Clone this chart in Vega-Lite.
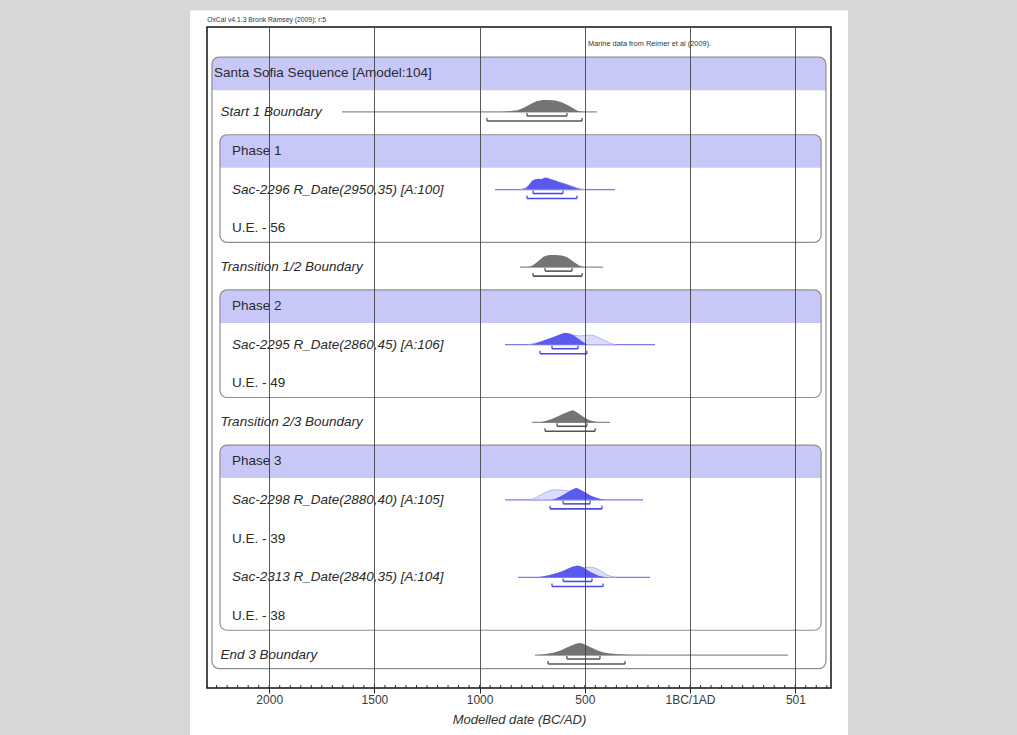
{
  "$schema": "https://vega.github.io/schema/vega-lite/v6.json",
  "width": 624,
  "height": 661,
  "autosize": {"type": "none"},
  "padding": {"left": 207, "top": 27, "right": 186, "bottom": 47},
  "background": "#d9d6da",
  "config": {
    "view": {"stroke": null},
    "font": "Liberation Sans",
    "axisX": {"grid": true, "gridColor": "#3c3c3c", "gridOpacity": 0.85, "gridWidth": 1, "domain": false, "tickColor": "#222", "tickSize": 5, "tickWidth": 1, "labelFontSize": 12, "labelColor": "#3a3a3a", "labelPadding": 1, "titleFontSize": 13, "titleFontStyle": "italic", "titleFontWeight": "normal", "titleColor": "#333", "titlePadding": 8}
  },
  "datasets": {
    "labels": [
      {"row": 1, "label": "Santa Sofia Sequence [Amodel:104]", "style": "seq"},
      {"row": 2, "label": "Start 1 Boundary", "style": "boundary"},
      {"row": 3, "label": "Phase 1", "style": "phase"},
      {"row": 4, "label": "Sac-2296 R_Date(2950,35) [A:100]", "style": "date"},
      {"row": 5, "label": "U.E. - 56", "style": "ue"},
      {"row": 6, "label": "Transition 1/2 Boundary", "style": "boundary"},
      {"row": 7, "label": "Phase 2", "style": "phase"},
      {"row": 8, "label": "Sac-2295 R_Date(2860,45) [A:106]", "style": "date"},
      {"row": 9, "label": "U.E. - 49", "style": "ue"},
      {"row": 10, "label": "Transition 2/3 Boundary", "style": "boundary"},
      {"row": 11, "label": "Phase 3", "style": "phase"},
      {"row": 12, "label": "Sac-2298 R_Date(2880,40) [A:105]", "style": "date"},
      {"row": 13, "label": "U.E. - 39", "style": "ue"},
      {"row": 14, "label": "Sac-2313 R_Date(2840,35) [A:104]", "style": "date"},
      {"row": 15, "label": "U.E. - 38", "style": "ue"},
      {"row": 16, "label": "End 3 Boundary", "style": "boundary"}
    ],
    "boxes": [
      {"box": "Santa Sofia Sequence", "level": 0, "first": 1, "last": 16},
      {"box": "Phase 1", "level": 1, "first": 3, "last": 5},
      {"box": "Phase 2", "level": 1, "first": 7, "last": 9},
      {"box": "Phase 3", "level": 1, "first": 11, "last": 15}
    ],
    "notes": [
      {"note": "OxCal v4.1.3 Bronk Ramsey (2009); r:5", "where": "top"},
      {"note": "Marine data from Reimer et al (2009).", "where": "inside"}
    ],
    "ranges": [
      {"n": "Start 1", "row": 2, "kind": "boundary", "lineLo": -1654, "lineHi": -442, "lo68": -775, "hi68": -585, "lo95": -965, "hi95": -513},
      {"n": "Sac-2296", "row": 4, "kind": "date", "lineLo": -927, "lineHi": -356, "lo68": -746, "hi68": -604, "lo95": -775, "hi95": -537},
      {"n": "Transition 1/2", "row": 6, "kind": "boundary", "lineLo": -808, "lineHi": -413, "lo68": -689, "hi68": -561, "lo95": -746, "hi95": -513},
      {"n": "Sac-2295", "row": 8, "kind": "date", "lineLo": -879, "lineHi": -166, "lo68": -656, "hi68": -532, "lo95": -713, "hi95": -490},
      {"n": "Transition 2/3", "row": 10, "kind": "boundary", "lineLo": -751, "lineHi": -380, "lo68": -632, "hi68": -490, "lo95": -689, "hi95": -451},
      {"n": "Sac-2298", "row": 12, "kind": "date", "lineLo": -879, "lineHi": -223, "lo68": -603, "hi68": -475, "lo95": -665, "hi95": -418},
      {"n": "Sac-2313", "row": 14, "kind": "date", "lineLo": -817, "lineHi": -190, "lo68": -603, "hi68": -466, "lo95": -656, "hi95": -413},
      {"n": "End 3", "row": 16, "kind": "boundary", "lineLo": -737, "lineHi": 466, "lo68": -585, "hi68": -428, "lo95": -675, "hi95": -309}
    ],
    "minor": [
      {"year": -2250}, {"year": -2200}, {"year": -2150}, {"year": -2100}, {"year": -2050}, {"year": -2000}, {"year": -1950}, {"year": -1900}, {"year": -1850}, {"year": -1800},
      {"year": -1750}, {"year": -1700}, {"year": -1650}, {"year": -1600}, {"year": -1550}, {"year": -1500}, {"year": -1450}, {"year": -1400}, {"year": -1350}, {"year": -1300},
      {"year": -1250}, {"year": -1200}, {"year": -1150}, {"year": -1100}, {"year": -1050}, {"year": -1000}, {"year": -950}, {"year": -900}, {"year": -850}, {"year": -800},
      {"year": -750}, {"year": -700}, {"year": -650}, {"year": -600}, {"year": -550}, {"year": -500}, {"year": -450}, {"year": -400}, {"year": -350}, {"year": -300},
      {"year": -250}, {"year": -200}, {"year": -150}, {"year": -100}, {"year": -50}, {"year": 0}, {"year": 50}, {"year": 100}, {"year": 150}, {"year": 200},
      {"year": 250}, {"year": 300}, {"year": 350}, {"year": 400}, {"year": 450}, {"year": 500}, {"year": 550}, {"year": 600}, {"year": 650}
    ],
    "dens": [
      {"n": "Start 1", "row": 2, "kind": "boundary", "part": "post", "year": -900, "p": 0},
      {"n": "Start 1", "row": 2, "kind": "boundary", "part": "post", "year": -860, "p": 0.05},
      {"n": "Start 1", "row": 2, "kind": "boundary", "part": "post", "year": -820, "p": 0.15},
      {"n": "Start 1", "row": 2, "kind": "boundary", "part": "post", "year": -790, "p": 0.35},
      {"n": "Start 1", "row": 2, "kind": "boundary", "part": "post", "year": -760, "p": 0.65},
      {"n": "Start 1", "row": 2, "kind": "boundary", "part": "post", "year": -730, "p": 0.9},
      {"n": "Start 1", "row": 2, "kind": "boundary", "part": "post", "year": -700, "p": 1},
      {"n": "Start 1", "row": 2, "kind": "boundary", "part": "post", "year": -670, "p": 1},
      {"n": "Start 1", "row": 2, "kind": "boundary", "part": "post", "year": -640, "p": 0.95},
      {"n": "Start 1", "row": 2, "kind": "boundary", "part": "post", "year": -610, "p": 0.8},
      {"n": "Start 1", "row": 2, "kind": "boundary", "part": "post", "year": -580, "p": 0.55},
      {"n": "Start 1", "row": 2, "kind": "boundary", "part": "post", "year": -555, "p": 0.3},
      {"n": "Start 1", "row": 2, "kind": "boundary", "part": "post", "year": -535, "p": 0.1},
      {"n": "Start 1", "row": 2, "kind": "boundary", "part": "post", "year": -515, "p": 0.02},
      {"n": "Start 1", "row": 2, "kind": "boundary", "part": "post", "year": -500, "p": 0},

      {"n": "Sac-2296", "row": 4, "kind": "date", "part": "prior", "year": -810, "p": 0},
      {"n": "Sac-2296", "row": 4, "kind": "date", "part": "prior", "year": -780, "p": 0.15},
      {"n": "Sac-2296", "row": 4, "kind": "date", "part": "prior", "year": -760, "p": 0.45},
      {"n": "Sac-2296", "row": 4, "kind": "date", "part": "prior", "year": -740, "p": 0.7},
      {"n": "Sac-2296", "row": 4, "kind": "date", "part": "prior", "year": -720, "p": 0.8},
      {"n": "Sac-2296", "row": 4, "kind": "date", "part": "prior", "year": -700, "p": 0.85},
      {"n": "Sac-2296", "row": 4, "kind": "date", "part": "prior", "year": -680, "p": 0.9},
      {"n": "Sac-2296", "row": 4, "kind": "date", "part": "prior", "year": -660, "p": 0.8},
      {"n": "Sac-2296", "row": 4, "kind": "date", "part": "prior", "year": -640, "p": 0.7},
      {"n": "Sac-2296", "row": 4, "kind": "date", "part": "prior", "year": -620, "p": 0.6},
      {"n": "Sac-2296", "row": 4, "kind": "date", "part": "prior", "year": -600, "p": 0.5},
      {"n": "Sac-2296", "row": 4, "kind": "date", "part": "prior", "year": -580, "p": 0.4},
      {"n": "Sac-2296", "row": 4, "kind": "date", "part": "prior", "year": -560, "p": 0.28},
      {"n": "Sac-2296", "row": 4, "kind": "date", "part": "prior", "year": -540, "p": 0.15},
      {"n": "Sac-2296", "row": 4, "kind": "date", "part": "prior", "year": -520, "p": 0.05},
      {"n": "Sac-2296", "row": 4, "kind": "date", "part": "prior", "year": -500, "p": 0},
      {"n": "Sac-2296", "row": 4, "kind": "date", "part": "post", "year": -800, "p": 0},
      {"n": "Sac-2296", "row": 4, "kind": "date", "part": "post", "year": -780, "p": 0.1},
      {"n": "Sac-2296", "row": 4, "kind": "date", "part": "post", "year": -765, "p": 0.4},
      {"n": "Sac-2296", "row": 4, "kind": "date", "part": "post", "year": -750, "p": 0.75},
      {"n": "Sac-2296", "row": 4, "kind": "date", "part": "post", "year": -735, "p": 0.85},
      {"n": "Sac-2296", "row": 4, "kind": "date", "part": "post", "year": -720, "p": 0.9},
      {"n": "Sac-2296", "row": 4, "kind": "date", "part": "post", "year": -705, "p": 0.88},
      {"n": "Sac-2296", "row": 4, "kind": "date", "part": "post", "year": -690, "p": 1},
      {"n": "Sac-2296", "row": 4, "kind": "date", "part": "post", "year": -675, "p": 0.95},
      {"n": "Sac-2296", "row": 4, "kind": "date", "part": "post", "year": -660, "p": 0.85},
      {"n": "Sac-2296", "row": 4, "kind": "date", "part": "post", "year": -640, "p": 0.75},
      {"n": "Sac-2296", "row": 4, "kind": "date", "part": "post", "year": -620, "p": 0.6},
      {"n": "Sac-2296", "row": 4, "kind": "date", "part": "post", "year": -600, "p": 0.5},
      {"n": "Sac-2296", "row": 4, "kind": "date", "part": "post", "year": -580, "p": 0.38},
      {"n": "Sac-2296", "row": 4, "kind": "date", "part": "post", "year": -560, "p": 0.25},
      {"n": "Sac-2296", "row": 4, "kind": "date", "part": "post", "year": -540, "p": 0.12},
      {"n": "Sac-2296", "row": 4, "kind": "date", "part": "post", "year": -520, "p": 0.03},
      {"n": "Sac-2296", "row": 4, "kind": "date", "part": "post", "year": -505, "p": 0},

      {"n": "Transition 1/2", "row": 6, "kind": "boundary", "part": "post", "year": -775, "p": 0},
      {"n": "Transition 1/2", "row": 6, "kind": "boundary", "part": "post", "year": -755, "p": 0.08},
      {"n": "Transition 1/2", "row": 6, "kind": "boundary", "part": "post", "year": -735, "p": 0.3},
      {"n": "Transition 1/2", "row": 6, "kind": "boundary", "part": "post", "year": -715, "p": 0.6},
      {"n": "Transition 1/2", "row": 6, "kind": "boundary", "part": "post", "year": -695, "p": 0.88},
      {"n": "Transition 1/2", "row": 6, "kind": "boundary", "part": "post", "year": -670, "p": 1},
      {"n": "Transition 1/2", "row": 6, "kind": "boundary", "part": "post", "year": -640, "p": 1},
      {"n": "Transition 1/2", "row": 6, "kind": "boundary", "part": "post", "year": -610, "p": 0.97},
      {"n": "Transition 1/2", "row": 6, "kind": "boundary", "part": "post", "year": -585, "p": 0.85},
      {"n": "Transition 1/2", "row": 6, "kind": "boundary", "part": "post", "year": -565, "p": 0.6},
      {"n": "Transition 1/2", "row": 6, "kind": "boundary", "part": "post", "year": -545, "p": 0.35},
      {"n": "Transition 1/2", "row": 6, "kind": "boundary", "part": "post", "year": -525, "p": 0.12},
      {"n": "Transition 1/2", "row": 6, "kind": "boundary", "part": "post", "year": -505, "p": 0.02},
      {"n": "Transition 1/2", "row": 6, "kind": "boundary", "part": "post", "year": -490, "p": 0},

      {"n": "Sac-2295", "row": 8, "kind": "date", "part": "prior", "year": -770, "p": 0},
      {"n": "Sac-2295", "row": 8, "kind": "date", "part": "prior", "year": -730, "p": 0.15},
      {"n": "Sac-2295", "row": 8, "kind": "date", "part": "prior", "year": -690, "p": 0.35},
      {"n": "Sac-2295", "row": 8, "kind": "date", "part": "prior", "year": -650, "p": 0.55},
      {"n": "Sac-2295", "row": 8, "kind": "date", "part": "prior", "year": -610, "p": 0.72},
      {"n": "Sac-2295", "row": 8, "kind": "date", "part": "prior", "year": -580, "p": 0.8},
      {"n": "Sac-2295", "row": 8, "kind": "date", "part": "prior", "year": -550, "p": 0.78},
      {"n": "Sac-2295", "row": 8, "kind": "date", "part": "prior", "year": -520, "p": 0.72},
      {"n": "Sac-2295", "row": 8, "kind": "date", "part": "prior", "year": -490, "p": 0.8},
      {"n": "Sac-2295", "row": 8, "kind": "date", "part": "prior", "year": -460, "p": 0.78},
      {"n": "Sac-2295", "row": 8, "kind": "date", "part": "prior", "year": -430, "p": 0.55},
      {"n": "Sac-2295", "row": 8, "kind": "date", "part": "prior", "year": -400, "p": 0.3},
      {"n": "Sac-2295", "row": 8, "kind": "date", "part": "prior", "year": -375, "p": 0.1},
      {"n": "Sac-2295", "row": 8, "kind": "date", "part": "prior", "year": -355, "p": 0},
      {"n": "Sac-2295", "row": 8, "kind": "date", "part": "post", "year": -770, "p": 0},
      {"n": "Sac-2295", "row": 8, "kind": "date", "part": "post", "year": -740, "p": 0.08},
      {"n": "Sac-2295", "row": 8, "kind": "date", "part": "post", "year": -710, "p": 0.25},
      {"n": "Sac-2295", "row": 8, "kind": "date", "part": "post", "year": -680, "p": 0.45},
      {"n": "Sac-2295", "row": 8, "kind": "date", "part": "post", "year": -650, "p": 0.65},
      {"n": "Sac-2295", "row": 8, "kind": "date", "part": "post", "year": -620, "p": 0.85},
      {"n": "Sac-2295", "row": 8, "kind": "date", "part": "post", "year": -595, "p": 1},
      {"n": "Sac-2295", "row": 8, "kind": "date", "part": "post", "year": -575, "p": 0.95},
      {"n": "Sac-2295", "row": 8, "kind": "date", "part": "post", "year": -555, "p": 0.8},
      {"n": "Sac-2295", "row": 8, "kind": "date", "part": "post", "year": -535, "p": 0.55},
      {"n": "Sac-2295", "row": 8, "kind": "date", "part": "post", "year": -515, "p": 0.3},
      {"n": "Sac-2295", "row": 8, "kind": "date", "part": "post", "year": -500, "p": 0.12},
      {"n": "Sac-2295", "row": 8, "kind": "date", "part": "post", "year": -485, "p": 0},

      {"n": "Transition 2/3", "row": 10, "kind": "boundary", "part": "post", "year": -715, "p": 0},
      {"n": "Transition 2/3", "row": 10, "kind": "boundary", "part": "post", "year": -690, "p": 0.08},
      {"n": "Transition 2/3", "row": 10, "kind": "boundary", "part": "post", "year": -660, "p": 0.25},
      {"n": "Transition 2/3", "row": 10, "kind": "boundary", "part": "post", "year": -630, "p": 0.48},
      {"n": "Transition 2/3", "row": 10, "kind": "boundary", "part": "post", "year": -600, "p": 0.72},
      {"n": "Transition 2/3", "row": 10, "kind": "boundary", "part": "post", "year": -570, "p": 0.93},
      {"n": "Transition 2/3", "row": 10, "kind": "boundary", "part": "post", "year": -556, "p": 1},
      {"n": "Transition 2/3", "row": 10, "kind": "boundary", "part": "post", "year": -540, "p": 0.85},
      {"n": "Transition 2/3", "row": 10, "kind": "boundary", "part": "post", "year": -520, "p": 0.6},
      {"n": "Transition 2/3", "row": 10, "kind": "boundary", "part": "post", "year": -500, "p": 0.38},
      {"n": "Transition 2/3", "row": 10, "kind": "boundary", "part": "post", "year": -480, "p": 0.2},
      {"n": "Transition 2/3", "row": 10, "kind": "boundary", "part": "post", "year": -460, "p": 0.09},
      {"n": "Transition 2/3", "row": 10, "kind": "boundary", "part": "post", "year": -440, "p": 0.03},
      {"n": "Transition 2/3", "row": 10, "kind": "boundary", "part": "post", "year": -415, "p": 0},

      {"n": "Sac-2298", "row": 12, "kind": "date", "part": "prior", "year": -760, "p": 0},
      {"n": "Sac-2298", "row": 12, "kind": "date", "part": "prior", "year": -730, "p": 0.2},
      {"n": "Sac-2298", "row": 12, "kind": "date", "part": "prior", "year": -700, "p": 0.5},
      {"n": "Sac-2298", "row": 12, "kind": "date", "part": "prior", "year": -670, "p": 0.75},
      {"n": "Sac-2298", "row": 12, "kind": "date", "part": "prior", "year": -645, "p": 0.85},
      {"n": "Sac-2298", "row": 12, "kind": "date", "part": "prior", "year": -620, "p": 0.82},
      {"n": "Sac-2298", "row": 12, "kind": "date", "part": "prior", "year": -595, "p": 0.78},
      {"n": "Sac-2298", "row": 12, "kind": "date", "part": "prior", "year": -570, "p": 0.72},
      {"n": "Sac-2298", "row": 12, "kind": "date", "part": "prior", "year": -545, "p": 0.65},
      {"n": "Sac-2298", "row": 12, "kind": "date", "part": "prior", "year": -520, "p": 0.5},
      {"n": "Sac-2298", "row": 12, "kind": "date", "part": "prior", "year": -495, "p": 0.3},
      {"n": "Sac-2298", "row": 12, "kind": "date", "part": "prior", "year": -470, "p": 0.15},
      {"n": "Sac-2298", "row": 12, "kind": "date", "part": "prior", "year": -440, "p": 0.04},
      {"n": "Sac-2298", "row": 12, "kind": "date", "part": "prior", "year": -415, "p": 0},
      {"n": "Sac-2298", "row": 12, "kind": "date", "part": "post", "year": -665, "p": 0},
      {"n": "Sac-2298", "row": 12, "kind": "date", "part": "post", "year": -640, "p": 0.1},
      {"n": "Sac-2298", "row": 12, "kind": "date", "part": "post", "year": -615, "p": 0.3},
      {"n": "Sac-2298", "row": 12, "kind": "date", "part": "post", "year": -590, "p": 0.55},
      {"n": "Sac-2298", "row": 12, "kind": "date", "part": "post", "year": -565, "p": 0.82},
      {"n": "Sac-2298", "row": 12, "kind": "date", "part": "post", "year": -540, "p": 1},
      {"n": "Sac-2298", "row": 12, "kind": "date", "part": "post", "year": -520, "p": 0.85},
      {"n": "Sac-2298", "row": 12, "kind": "date", "part": "post", "year": -495, "p": 0.6},
      {"n": "Sac-2298", "row": 12, "kind": "date", "part": "post", "year": -470, "p": 0.35},
      {"n": "Sac-2298", "row": 12, "kind": "date", "part": "post", "year": -445, "p": 0.17},
      {"n": "Sac-2298", "row": 12, "kind": "date", "part": "post", "year": -420, "p": 0.06},
      {"n": "Sac-2298", "row": 12, "kind": "date", "part": "post", "year": -395, "p": 0},

      {"n": "Sac-2313", "row": 14, "kind": "date", "part": "prior", "year": -720, "p": 0},
      {"n": "Sac-2313", "row": 14, "kind": "date", "part": "prior", "year": -680, "p": 0.12},
      {"n": "Sac-2313", "row": 14, "kind": "date", "part": "prior", "year": -640, "p": 0.3},
      {"n": "Sac-2313", "row": 14, "kind": "date", "part": "prior", "year": -600, "p": 0.5},
      {"n": "Sac-2313", "row": 14, "kind": "date", "part": "prior", "year": -565, "p": 0.68},
      {"n": "Sac-2313", "row": 14, "kind": "date", "part": "prior", "year": -530, "p": 0.78},
      {"n": "Sac-2313", "row": 14, "kind": "date", "part": "prior", "year": -500, "p": 0.82},
      {"n": "Sac-2313", "row": 14, "kind": "date", "part": "prior", "year": -470, "p": 0.85},
      {"n": "Sac-2313", "row": 14, "kind": "date", "part": "prior", "year": -445, "p": 0.75},
      {"n": "Sac-2313", "row": 14, "kind": "date", "part": "prior", "year": -420, "p": 0.5},
      {"n": "Sac-2313", "row": 14, "kind": "date", "part": "prior", "year": -395, "p": 0.22},
      {"n": "Sac-2313", "row": 14, "kind": "date", "part": "prior", "year": -370, "p": 0.05},
      {"n": "Sac-2313", "row": 14, "kind": "date", "part": "prior", "year": -355, "p": 0},
      {"n": "Sac-2313", "row": 14, "kind": "date", "part": "post", "year": -730, "p": 0},
      {"n": "Sac-2313", "row": 14, "kind": "date", "part": "post", "year": -700, "p": 0.07},
      {"n": "Sac-2313", "row": 14, "kind": "date", "part": "post", "year": -670, "p": 0.18},
      {"n": "Sac-2313", "row": 14, "kind": "date", "part": "post", "year": -640, "p": 0.32},
      {"n": "Sac-2313", "row": 14, "kind": "date", "part": "post", "year": -610, "p": 0.5},
      {"n": "Sac-2313", "row": 14, "kind": "date", "part": "post", "year": -585, "p": 0.7},
      {"n": "Sac-2313", "row": 14, "kind": "date", "part": "post", "year": -560, "p": 0.88},
      {"n": "Sac-2313", "row": 14, "kind": "date", "part": "post", "year": -535, "p": 1},
      {"n": "Sac-2313", "row": 14, "kind": "date", "part": "post", "year": -515, "p": 0.9},
      {"n": "Sac-2313", "row": 14, "kind": "date", "part": "post", "year": -495, "p": 0.7},
      {"n": "Sac-2313", "row": 14, "kind": "date", "part": "post", "year": -475, "p": 0.48},
      {"n": "Sac-2313", "row": 14, "kind": "date", "part": "post", "year": -455, "p": 0.3},
      {"n": "Sac-2313", "row": 14, "kind": "date", "part": "post", "year": -430, "p": 0.13},
      {"n": "Sac-2313", "row": 14, "kind": "date", "part": "post", "year": -405, "p": 0.04},
      {"n": "Sac-2313", "row": 14, "kind": "date", "part": "post", "year": -385, "p": 0},

      {"n": "End 3", "row": 16, "kind": "boundary", "part": "post", "year": -730, "p": 0},
      {"n": "End 3", "row": 16, "kind": "boundary", "part": "post", "year": -690, "p": 0.06},
      {"n": "End 3", "row": 16, "kind": "boundary", "part": "post", "year": -650, "p": 0.18},
      {"n": "End 3", "row": 16, "kind": "boundary", "part": "post", "year": -615, "p": 0.38},
      {"n": "End 3", "row": 16, "kind": "boundary", "part": "post", "year": -585, "p": 0.62},
      {"n": "End 3", "row": 16, "kind": "boundary", "part": "post", "year": -555, "p": 0.85},
      {"n": "End 3", "row": 16, "kind": "boundary", "part": "post", "year": -530, "p": 1},
      {"n": "End 3", "row": 16, "kind": "boundary", "part": "post", "year": -510, "p": 0.95},
      {"n": "End 3", "row": 16, "kind": "boundary", "part": "post", "year": -490, "p": 0.8},
      {"n": "End 3", "row": 16, "kind": "boundary", "part": "post", "year": -465, "p": 0.58},
      {"n": "End 3", "row": 16, "kind": "boundary", "part": "post", "year": -440, "p": 0.38},
      {"n": "End 3", "row": 16, "kind": "boundary", "part": "post", "year": -410, "p": 0.22},
      {"n": "End 3", "row": 16, "kind": "boundary", "part": "post", "year": -380, "p": 0.13},
      {"n": "End 3", "row": 16, "kind": "boundary", "part": "post", "year": -340, "p": 0.07},
      {"n": "End 3", "row": 16, "kind": "boundary", "part": "post", "year": -290, "p": 0.03},
      {"n": "End 3", "row": 16, "kind": "boundary", "part": "post", "year": -220, "p": 0.01},
      {"n": "End 3", "row": 16, "kind": "boundary", "part": "post", "year": -150, "p": 0}
    ]
  },
  "layer": [
    {
      "data": {"values": [{"page": "page"}]},
      "mark": {"type": "rect", "fill": "white"},
      "encoding": {
        "x": {"datum": -2376, "type": "quantitative", "scale": {"domain": [-2295.6, 670], "nice": false, "zero": false}, "title": "Modelled date (BC/AD)",
          "axis": {"values": [-2000, -1500, -1000, -500, 0, 501], "labelExpr": "datum.value == 0 ? '1BC/1AD' : (datum.value < 0 ? format(-datum.value, 'd') : format(datum.value, 'd'))", "zindex": 1}},
        "x2": {"datum": 751},
        "y": {"datum": -0.624, "type": "quantitative", "scale": {"domain": [-0.19, 16.85], "reverse": true, "nice": false, "zero": false}, "axis": null},
        "y2": {"datum": 18.06}
      }
    },
    {
      "data": {"name": "boxes"},
      "transform": [{"filter": "datum.level == 0"}],
      "mark": {"type": "rect", "fill": "#c8c8f8", "cornerRadiusTopLeft": 7, "cornerRadiusTopRight": 7, "yOffset": -16, "y2Offset": 17},
      "encoding": {
        "x": {"datum": -2272, "type": "quantitative", "scale": {"domain": [-2295.6, 670], "nice": false, "zero": false}, "title": "Modelled date (BC/AD)"},
        "x2": {"datum": 646},
        "y": {"field": "first", "type": "quantitative", "scale": {"domain": [-0.19, 16.85], "reverse": true, "nice": false, "zero": false}, "axis": null},
        "y2": {"field": "first"}
      }
    },
    {
      "data": {"name": "boxes"},
      "transform": [{"filter": "datum.level == 0"}],
      "mark": {"type": "rect", "fillOpacity": 0, "stroke": "#8e8e8e", "strokeWidth": 1.2, "cornerRadius": 7, "yOffset": -16, "y2Offset": 13.5},
      "encoding": {
        "x": {"datum": -2272, "type": "quantitative", "scale": {"domain": [-2295.6, 670], "nice": false, "zero": false}, "title": "Modelled date (BC/AD)"},
        "x2": {"datum": 646},
        "y": {"field": "first", "type": "quantitative", "scale": {"domain": [-0.19, 16.85], "reverse": true, "nice": false, "zero": false}, "axis": null},
        "y2": {"field": "last"}
      }
    },
    {
      "data": {"name": "boxes"},
      "transform": [{"filter": "datum.level == 1"}],
      "mark": {"type": "rect", "fill": "#c8c8f8", "cornerRadiusTopLeft": 7, "cornerRadiusTopRight": 7, "yOffset": -16, "y2Offset": 17},
      "encoding": {
        "x": {"datum": -2234, "type": "quantitative", "scale": {"domain": [-2295.6, 670], "nice": false, "zero": false}, "title": "Modelled date (BC/AD)"},
        "x2": {"datum": 623},
        "y": {"field": "first", "type": "quantitative", "scale": {"domain": [-0.19, 16.85], "reverse": true, "nice": false, "zero": false}, "axis": null},
        "y2": {"field": "first"}
      }
    },
    {
      "data": {"name": "boxes"},
      "transform": [{"filter": "datum.level == 1"}],
      "mark": {"type": "rect", "fillOpacity": 0, "stroke": "#8e8e8e", "strokeWidth": 1.2, "cornerRadius": 7, "yOffset": -16, "y2Offset": 14},
      "encoding": {
        "x": {"datum": -2234, "type": "quantitative", "scale": {"domain": [-2295.6, 670], "nice": false, "zero": false}, "title": "Modelled date (BC/AD)"},
        "x2": {"datum": 623},
        "y": {"field": "first", "type": "quantitative", "scale": {"domain": [-0.19, 16.85], "reverse": true, "nice": false, "zero": false}, "axis": null},
        "y2": {"field": "last"}
      }
    },
    {
      "data": {"name": "labels"},
      "transform": [{"filter": "datum.style == 'seq'"}],
      "mark": {"type": "text", "align": "left", "baseline": "middle", "fontSize": 13.5, "color": "#2a2a2a"},
      "encoding": {
        "x": {"datum": -2262, "type": "quantitative", "scale": {"domain": [-2295.6, 670], "nice": false, "zero": false}, "title": "Modelled date (BC/AD)"},
        "y": {"field": "row", "type": "quantitative", "scale": {"domain": [-0.19, 16.85], "reverse": true, "nice": false, "zero": false}, "axis": null},
        "text": {"field": "label"}
      }
    },
    {
      "data": {"name": "labels"},
      "transform": [{"filter": "datum.style == 'boundary'"}],
      "mark": {"type": "text", "align": "left", "baseline": "middle", "fontSize": 13.5, "fontStyle": "italic", "color": "#2a2a2a"},
      "encoding": {
        "x": {"datum": -2232, "type": "quantitative", "scale": {"domain": [-2295.6, 670], "nice": false, "zero": false}, "title": "Modelled date (BC/AD)"},
        "y": {"field": "row", "type": "quantitative", "scale": {"domain": [-0.19, 16.85], "reverse": true, "nice": false, "zero": false}, "axis": null},
        "text": {"field": "label"}
      }
    },
    {
      "data": {"name": "labels"},
      "transform": [{"filter": "datum.style == 'date'"}],
      "mark": {"type": "text", "align": "left", "baseline": "middle", "fontSize": 13.5, "fontStyle": "italic", "color": "#2a2a2a"},
      "encoding": {
        "x": {"datum": -2177, "type": "quantitative", "scale": {"domain": [-2295.6, 670], "nice": false, "zero": false}, "title": "Modelled date (BC/AD)"},
        "y": {"field": "row", "type": "quantitative", "scale": {"domain": [-0.19, 16.85], "reverse": true, "nice": false, "zero": false}, "axis": null},
        "text": {"field": "label"}
      }
    },
    {
      "data": {"name": "labels"},
      "transform": [{"filter": "datum.style == 'phase' || datum.style == 'ue'"}],
      "mark": {"type": "text", "align": "left", "baseline": "middle", "fontSize": 13.5, "color": "#2a2a2a"},
      "encoding": {
        "x": {"datum": -2177, "type": "quantitative", "scale": {"domain": [-2295.6, 670], "nice": false, "zero": false}, "title": "Modelled date (BC/AD)"},
        "y": {"field": "row", "type": "quantitative", "scale": {"domain": [-0.19, 16.85], "reverse": true, "nice": false, "zero": false}, "axis": null},
        "text": {"field": "label"}
      }
    },
    {
      "data": {"name": "notes"},
      "transform": [{"filter": "datum.where == 'top'"}],
      "mark": {"type": "text", "align": "left", "baseline": "middle", "fontSize": 6.8, "color": "#333"},
      "encoding": {
        "x": {"datum": -2295, "type": "quantitative", "scale": {"domain": [-2295.6, 670], "nice": false, "zero": false}, "title": "Modelled date (BC/AD)"},
        "y": {"datum": -0.37, "type": "quantitative", "scale": {"domain": [-0.19, 16.85], "reverse": true, "nice": false, "zero": false}, "axis": null},
        "text": {"field": "note"}
      }
    },
    {
      "data": {"name": "notes"},
      "transform": [{"filter": "datum.where == 'inside'"}],
      "mark": {"type": "text", "align": "left", "baseline": "middle", "fontSize": 7.4, "color": "#333"},
      "encoding": {
        "x": {"datum": -485, "type": "quantitative", "scale": {"domain": [-2295.6, 670], "nice": false, "zero": false}, "title": "Modelled date (BC/AD)"},
        "y": {"datum": 0.25, "type": "quantitative", "scale": {"domain": [-0.19, 16.85], "reverse": true, "nice": false, "zero": false}, "axis": null},
        "text": {"field": "note"}
      }
    },
    {
      "data": {"name": "ranges"},
      "mark": {"type": "rule", "strokeWidth": 1.2},
      "encoding": {
        "x": {"field": "lineLo", "type": "quantitative", "scale": {"domain": [-2295.6, 670], "nice": false, "zero": false}, "title": "Modelled date (BC/AD)"},
        "x2": {"field": "lineHi"},
        "y": {"field": "row", "type": "quantitative", "scale": {"domain": [-0.19, 16.85], "reverse": true, "nice": false, "zero": false}, "axis": null},
        "color": {"field": "kind", "type": "nominal", "scale": {"domain": ["boundary", "date"], "range": ["#8c8c8c", "#7a7aee"]}, "legend": null}
      }
    },
    {
      "data": {"name": "dens"},
      "transform": [{"filter": "datum.part == 'prior'"}, {"calculate": "datum.row - datum.p * 0.31", "as": "top"}],
      "mark": {"type": "area", "orient": "vertical", "fill": "#dcdcfb", "stroke": "#a6a6ee", "strokeWidth": 0.8},
      "encoding": {
        "x": {"field": "year", "type": "quantitative", "scale": {"domain": [-2295.6, 670], "nice": false, "zero": false}, "title": "Modelled date (BC/AD)"},
        "y": {"field": "row", "type": "quantitative", "scale": {"domain": [-0.19, 16.85], "reverse": true, "nice": false, "zero": false}, "axis": null},
        "y2": {"field": "top"},
        "detail": {"field": "n"}
      }
    },
    {
      "data": {"name": "dens"},
      "transform": [{"filter": "datum.part == 'post'"}, {"calculate": "datum.row - datum.p * 0.31", "as": "top"}],
      "mark": {"type": "area", "orient": "vertical"},
      "encoding": {
        "x": {"field": "year", "type": "quantitative", "scale": {"domain": [-2295.6, 670], "nice": false, "zero": false}, "title": "Modelled date (BC/AD)"},
        "y": {"field": "row", "type": "quantitative", "scale": {"domain": [-0.19, 16.85], "reverse": true, "nice": false, "zero": false}, "axis": null},
        "y2": {"field": "top"},
        "detail": {"field": "n"},
        "fill": {"field": "kind", "type": "nominal", "scale": {"domain": ["boundary", "date"], "range": ["#747474", "#5a5aef"]}, "legend": null}
      }
    },
    {
      "data": {"name": "ranges"},
      "mark": {"type": "rule", "strokeWidth": 1.6, "yOffset": 4},
      "encoding": {
        "x": {"field": "lo68", "type": "quantitative", "scale": {"domain": [-2295.6, 670], "nice": false, "zero": false}, "title": "Modelled date (BC/AD)"},
        "x2": {"field": "hi68"},
        "y": {"field": "row", "type": "quantitative", "scale": {"domain": [-0.19, 16.85], "reverse": true, "nice": false, "zero": false}, "axis": null},
        "stroke": {"field": "kind", "type": "nominal", "scale": {"domain": ["boundary", "date"], "range": ["#555555", "#4a4ae6"]}, "legend": null}
      }
    },
    {
      "data": {"name": "ranges"},
      "mark": {"type": "rule", "strokeWidth": 1.6, "yOffset": 9},
      "encoding": {
        "x": {"field": "lo95", "type": "quantitative", "scale": {"domain": [-2295.6, 670], "nice": false, "zero": false}, "title": "Modelled date (BC/AD)"},
        "x2": {"field": "hi95"},
        "y": {"field": "row", "type": "quantitative", "scale": {"domain": [-0.19, 16.85], "reverse": true, "nice": false, "zero": false}, "axis": null},
        "stroke": {"field": "kind", "type": "nominal", "scale": {"domain": ["boundary", "date"], "range": ["#555555", "#4a4ae6"]}, "legend": null}
      }
    },
    {
      "data": {"name": "ranges"},
      "transform": [{"fold": ["lo68", "hi68"], "as": ["end", "xv"]}],
      "mark": {"type": "rule", "strokeWidth": 1.3, "yOffset": 1, "y2Offset": 4},
      "encoding": {
        "x": {"field": "xv", "type": "quantitative", "scale": {"domain": [-2295.6, 670], "nice": false, "zero": false}, "title": "Modelled date (BC/AD)"},
        "y": {"field": "row", "type": "quantitative", "scale": {"domain": [-0.19, 16.85], "reverse": true, "nice": false, "zero": false}, "axis": null},
        "y2": {"field": "row"},
        "stroke": {"field": "kind", "type": "nominal", "scale": {"domain": ["boundary", "date"], "range": ["#555555", "#4a4ae6"]}, "legend": null}
      }
    },
    {
      "data": {"name": "ranges"},
      "transform": [{"fold": ["lo95", "hi95"], "as": ["end", "xv"]}],
      "mark": {"type": "rule", "strokeWidth": 1.3, "yOffset": 6, "y2Offset": 9},
      "encoding": {
        "x": {"field": "xv", "type": "quantitative", "scale": {"domain": [-2295.6, 670], "nice": false, "zero": false}, "title": "Modelled date (BC/AD)"},
        "y": {"field": "row", "type": "quantitative", "scale": {"domain": [-0.19, 16.85], "reverse": true, "nice": false, "zero": false}, "axis": null},
        "y2": {"field": "row"},
        "stroke": {"field": "kind", "type": "nominal", "scale": {"domain": ["boundary", "date"], "range": ["#555555", "#4a4ae6"]}, "legend": null}
      }
    },
    {
      "data": {"name": "minor"},
      "mark": {"type": "rule", "stroke": "#333", "strokeWidth": 1, "y2Offset": -3},
      "encoding": {
        "x": {"field": "year", "type": "quantitative", "scale": {"domain": [-2295.6, 670], "nice": false, "zero": false}, "title": "Modelled date (BC/AD)"},
        "y": {"datum": 16.85, "type": "quantitative", "scale": {"domain": [-0.19, 16.85], "reverse": true, "nice": false, "zero": false}, "axis": null},
        "y2": {"datum": 16.85}
      }
    },
    {
      "data": {"values": [{"frame": "frame"}]},
      "mark": {"type": "rect", "fillOpacity": 0, "stroke": "#111", "strokeWidth": 1.5},
      "encoding": {
        "x": {"datum": -2295.6, "type": "quantitative", "scale": {"domain": [-2295.6, 670], "nice": false, "zero": false}, "title": "Modelled date (BC/AD)"},
        "x2": {"datum": 670},
        "y": {"datum": -0.19, "type": "quantitative", "scale": {"domain": [-0.19, 16.85], "reverse": true, "nice": false, "zero": false}, "axis": null},
        "y2": {"datum": 16.85}
      }
    }
  ]
}
